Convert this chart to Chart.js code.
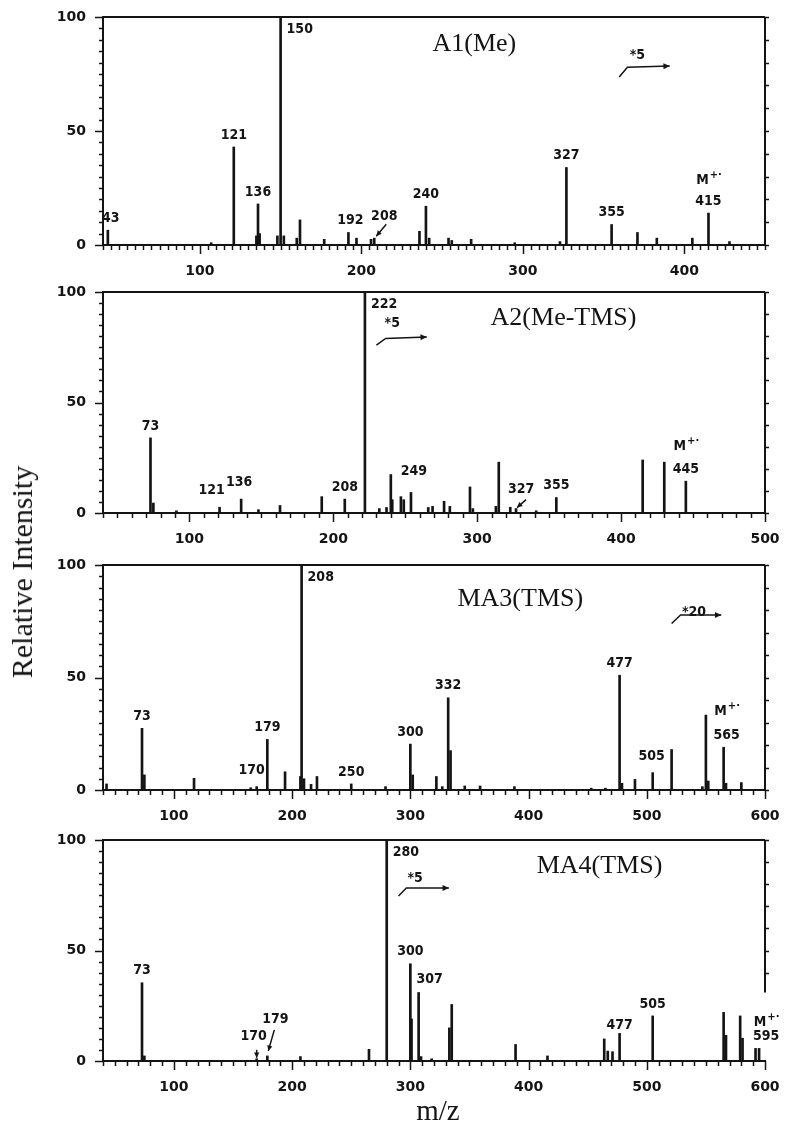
<!DOCTYPE html>
<html>
<head>
<meta charset="utf-8">
<title>Mass spectra</title>
<script src="https://cdn.jsdelivr.net/npm/chart.js@4.4.1/dist/chart.umd.min.js"></script>
<style>
  body { margin: 0; background: #fff; }
  #page { position: relative; width: 785px; height: 1125px; overflow: hidden; background: #fff; }
  #page canvas { position: absolute; left: 0; }
  .axis-title { position: absolute; font-family: "Liberation Serif", "DejaVu Serif", serif; color: #141414; white-space: nowrap; line-height: 1; }
  #yTitle { left: 22px; top: 572px; font-size: 30px; transform: translate(-50%, -50%) rotate(-90deg); }
  #xTitle { left: 438px; top: 1110px; font-size: 29px; transform: translate(-50%, -50%); }
</style>
</head>
<body>
<div id="page">
  <canvas id="p1"></canvas>
  <canvas id="p2"></canvas>
  <canvas id="p3"></canvas>
  <canvas id="p4"></canvas>
  <div class="axis-title" id="yTitle">Relative Intensity</div>
  <div class="axis-title" id="xTitle">m/z</div>
</div>
<script>
// spectrum A1(Me)
const a1Mz = [43, 107, 121, 135, 136, 137, 148, 150, 152, 160, 162, 177, 192, 197, 206, 208, 236, 240, 242, 254, 256, 268, 295, 323, 327, 355, 371, 383, 405, 415, 428];
const a1Int = [6.5, 1, 43, 4, 18, 5, 4, 100, 4, 3, 11, 2.5, 5.5, 3, 2.5, 3, 6, 17, 3, 3, 2, 2.5, 1, 1.5, 34, 9, 5.5, 3, 3, 14, 1.5];
const a1Labels = [43, 121, 136, 150, 192, 208, 240, 327, 355, 415];

// spectrum A2(Me-TMS)
const a2Mz = [73, 75, 91, 121, 136, 148, 163, 192, 208, 222, 232, 237, 240, 241, 247, 249, 254, 266, 269, 277, 281, 295, 297, 313, 315, 323, 327, 341, 355, 415, 430, 445];
const a2Int = [34, 4.5, 1, 2.6, 6.3, 1.5, 3.4, 7.4, 6.3, 100, 2, 2.5, 17.4, 6, 7.4, 6, 9.3, 2.5, 3, 5.3, 3, 11.8, 2, 3, 23, 2.6, 2, 1, 7, 24, 23, 14.4];
const a2Labels = [73, 121, 136, 208, 222, 249, 327, 355, 445];

// spectrum MA3(TMS)
const a3Mz = [43, 73, 75, 117, 165, 170, 179, 194, 207, 208, 210, 216, 221, 250, 279, 300, 302, 322, 327, 332, 334, 346, 359, 388, 453, 465, 477, 479, 490, 505, 521, 547, 550, 552, 565, 567, 580];
const a3Int = [2.7, 27.4, 6.7, 5.2, 1, 1.5, 22.5, 8.1, 6, 100, 5, 2.5, 6, 2.7, 1.5, 20.4, 6.7, 6, 1.5, 41, 17.5, 1.8, 1.8, 1.5, 0.8, 0.8, 51, 3, 4.7, 7.7, 18, 1.5, 33.3, 4, 19, 3, 3.3];
const a3Labels = [73, 170, 179, 208, 250, 300, 332, 477, 505, 565];

// spectrum MA4(TMS)
const a4Mz = [73, 75, 170, 179, 207, 265, 280, 300, 301, 307, 309, 318, 333, 335, 389, 416, 464, 467, 471, 477, 505, 565, 567, 579, 581, 592, 595];
const a4Int = [35.4, 2.3, 1, 2.3, 2, 5.3, 100, 44, 19, 31, 2, 1, 15, 25.6, 7.5, 2.3, 10, 4.5, 4.2, 12.5, 20.4, 22, 11.6, 20.4, 10.3, 5.7, 5.7];
const a4Labels = [73, 170, 179, 280, 300, 307, 477, 505, 595];

const titles = ["A1(Me)", "A2(Me-TMS)", "MA3(TMS)", "MA4(TMS)"];
const gains = ["*5", "*5", "*20", "*5"];
const ions = [415, 445, 565, 595];
const xTickLabels = [100, 200, 300, 400, 500, 600];
const yTickLabels = [0, 50, 100];

// styles
const INK = "#141414";
const PAD_T = 12, AXIS_H = 40, Y_W = 103, PAD_R = 20;
const tickFont = { family: "'DejaVu Sans', sans-serif", size: 14, weight: "bold" };
const peakFont = "bold 14px 'Liberation Sans Narrow', 'DejaVu Sans Condensed', sans-serif";
const supFont = "bold 10px 'DejaVu Sans', sans-serif";
const titleFont = "26px 'Liberation Serif', 'DejaVu Serif', serif";

// per-panel layout (frame in px, annotations in data units)
const panels = [
  { id: "p1", mz: a1Mz, inten: a1Int, labels: a1Labels, title: titles[0], gain: gains[0], ion: ions[0],
    top: 17, bottom: 245, min: 40, max: 450, step: 5, rightTo: 0, ionGap: 21,
    titleAt: [270, 88], gainAt: [371, 83], hook: [[359.7, 73.7], [364.8, 78], [391, 78.5]],
    place: { 43: { dx: 3 }, 150: { top: true }, 192: { dx: 2 }, 208: { dx: 10, dy: -10, arrow: [12, -14, 2, -2] } } },
  { id: "p2", mz: a2Mz, inten: a2Int, labels: a2Labels, title: titles[1], gain: gains[1], ion: ions[1],
    top: 292, bottom: 513, min: 40, max: 500, step: 10, rightTo: 0, ionGap: 23,
    titleAt: [360, 88], gainAt: [241, 86], hook: [[230, 76], [236.4, 79], [265, 79.6]],
    place: { 121: { dx: -8, dy: -5 }, 136: { dx: -2, dy: -5 }, 222: { top: true }, 249: { dx: 10, dy: -16 },
             327: { dx: 5, dy: -7, arrow: [10, -9, 1, -1] } } },
  { id: "p3", mz: a3Mz, inten: a3Int, labels: a3Labels, title: titles[2], gain: gains[2], ion: ions[2],
    top: 565, bottom: 790, min: 40, max: 600, step: 10, rightTo: 0, ionGap: 24,
    titleAt: [393, 85], gainAt: [540, 79], hook: [[521, 74], [528.6, 77.8], [563, 77.8]],
    place: { 170: { dx: -5, dy: -4 }, 208: { top: true }, 505: { dx: -1, dy: -4 }, 565: { dx: 3 } } },
  { id: "p4", mz: a4Mz, inten: a4Int, labels: a4Labels, title: titles[3], gain: gains[3], ion: ions[3],
    top: 840, bottom: 1061, min: 40, max: 600, step: 10, rightTo: 31, ionGap: 14,
    titleAt: [460, 88], gainAt: [304, 82.8], hook: [[290, 74.7], [296.6, 78.3], [332.6, 78.3]],
    place: { 170: { dx: -3, dy: -10, arrow: [0, -9, 0, -1] }, 179: { dx: 8, dy: -25, arrow: [7, -26, 1, -5] },
             280: { top: true }, 307: { dx: 11, dy: -1 }, 477: { dy: 4 }, 595: { dx: 7 } } },
];

// arrow head at (x2, y2)
function arrowHead(ctx, x1, y1, x2, y2, size) {
  const ang = Math.atan2(y2 - y1, x2 - x1);
  ctx.beginPath();
  ctx.moveTo(x2, y2);
  ctx.lineTo(x2 - size * Math.cos(ang - 0.45), y2 - size * Math.sin(ang - 0.45));
  ctx.lineTo(x2 - size * Math.cos(ang + 0.45), y2 - size * Math.sin(ang + 0.45));
  ctx.closePath();
  ctx.fill();
}

// frame, tick marks, peak labels, titles
const decor = {
  id: "decor",
  afterDatasetsDraw(chart, args, p) {
    const { ctx, chartArea: a, scales: { x, y } } = chart;
    ctx.save();
    ctx.strokeStyle = INK;
    ctx.fillStyle = INK;

    // top and right side of the box
    ctx.lineWidth = 2;
    ctx.beginPath();
    ctx.moveTo(a.left, a.top);
    ctx.lineTo(a.right, a.top);
    ctx.moveTo(a.right, a.top);
    ctx.lineTo(a.right, y.getPixelForValue(p.rightTo));
    ctx.stroke();

    // x ticks under the baseline
    ctx.lineWidth = 1.5;
    x.ticks.forEach((t) => {
      const px = Math.round(x.getPixelForValue(t.value)) + 0.5;
      const len = t.value % 100 === 0 ? 9 : 5;
      ctx.beginPath();
      ctx.moveTo(px, a.bottom);
      ctx.lineTo(px, a.bottom + len);
      ctx.stroke();
    });
    // y ticks: left every 5, right every 10
    y.ticks.forEach((t) => {
      const py = Math.round(y.getPixelForValue(t.value)) + 0.5;
      const len = t.value % 50 === 0 ? 8 : 4;
      ctx.beginPath();
      ctx.moveTo(a.left - len, py);
      ctx.lineTo(a.left, py);
      if (t.value % 10 === 0 && t.value >= p.rightTo) {
        ctx.moveTo(a.right, py);
        ctx.lineTo(a.right + 4, py);
      }
      ctx.stroke();
    });

    // peak labels
    ctx.font = peakFont;
    ctx.textBaseline = "middle";
    p.labels.forEach((m) => {
      const i = p.mz.indexOf(m);
      const px = x.getPixelForValue(m);
      const py = y.getPixelForValue(p.inten[i]);
      const o = p.place[m] || {};
      if (o.top) {
        ctx.textAlign = "left";
        ctx.fillText(String(m), px + 6, a.top + 12);
        return;
      }
      const cx = px + (o.dx || 0);
      const cy = py - 12 + (o.dy || 0);
      ctx.textAlign = "center";
      ctx.fillText(String(m), cx, cy);
      if (o.arrow) {
        const [sx, sy, ex, ey] = o.arrow;
        ctx.lineWidth = 1.5;
        ctx.beginPath();
        ctx.moveTo(px + sx, py + sy);
        ctx.lineTo(px + ex, py + ey);
        ctx.stroke();
        arrowHead(ctx, px + sx, py + sy, px + ex, py + ey, 6);
      }
      if (m === p.ion) {
        // M+. above the molecular ion
        const wM = ctx.measureText("M").width;
        ctx.font = supFont;
        const wS = ctx.measureText("+·").width;
        const x0 = cx - (wM + wS) / 2;
        ctx.textAlign = "left";
        ctx.fillText("+·", x0 + wM + 1, cy - p.ionGap - 5);
        ctx.font = peakFont;
        ctx.fillText("M", x0, cy - p.ionGap);
      }
    });

    // gain note with hooked arrow
    ctx.textAlign = "center";
    ctx.fillText(p.gain, x.getPixelForValue(p.gainAt[0]), y.getPixelForValue(p.gainAt[1]));
    const pts = p.hook.map(([vx, vy]) => [x.getPixelForValue(vx), y.getPixelForValue(vy)]);
    ctx.lineWidth = 1.5;
    ctx.beginPath();
    pts.forEach(([hx, hy], k) => (k ? ctx.lineTo(hx, hy) : ctx.moveTo(hx, hy)));
    ctx.stroke();
    const n = pts.length;
    arrowHead(ctx, pts[n - 2][0], pts[n - 2][1], pts[n - 1][0], pts[n - 1][1], 7);

    // sample name
    ctx.font = titleFont;
    ctx.fillText(p.title, x.getPixelForValue(p.titleAt[0]), y.getPixelForValue(p.titleAt[1]));
    ctx.restore();
  },
};

function makePanel(p) {
  const canvas = document.getElementById(p.id);
  canvas.width = 785;
  canvas.height = p.bottom - p.top + PAD_T + AXIS_H;
  canvas.style.top = p.top - PAD_T + "px";

  return new Chart(canvas.getContext("2d"), {
    type: "bar",
    data: {
      datasets: [
        {
          data: p.mz.map((m, i) => ({ x: m, y: p.inten[i] })),
          backgroundColor: INK,
          barThickness: 2,
          borderWidth: 0,
        },
      ],
    },
    options: {
      responsive: false,
      animation: false,
      events: [],
      layout: { padding: { left: 0, right: PAD_R, top: PAD_T, bottom: 0 } },
      plugins: { legend: { display: false }, tooltip: { enabled: false }, decor: p },
      scales: {
        x: {
          type: "linear",
          min: p.min,
          max: p.max,
          offset: false,
          grid: { display: false, drawTicks: false },
          border: { display: true, color: INK, width: 2 },
          ticks: {
            stepSize: p.step,
            maxTicksLimit: 1000,
            autoSkip: false,
            maxRotation: 0,
            padding: 18,
            color: INK,
            font: tickFont,
            callback: (v) => (xTickLabels.includes(v) ? String(v) : ""),
          },
          // same frame width for every panel, whatever the end labels
          afterFit: (s) => {
            s.height = AXIS_H;
            s.paddingLeft = 0;
            s.paddingRight = 0;
          },
        },
        y: {
          min: 0,
          max: 100,
          grid: { display: false, drawTicks: false },
          border: { display: true, color: INK, width: 2 },
          ticks: {
            stepSize: 5,
            autoSkip: false,
            padding: 17,
            color: INK,
            font: tickFont,
            callback: (v) => (yTickLabels.includes(v) ? String(v) : ""),
          },
          afterFit: (s) => {
            s.width = Y_W;
            s.paddingTop = 0;
            s.paddingBottom = 0;
          },
        },
      },
    },
    plugins: [decor],
  });
}

panels.forEach(makePanel);
</script>
</body>
</html>
